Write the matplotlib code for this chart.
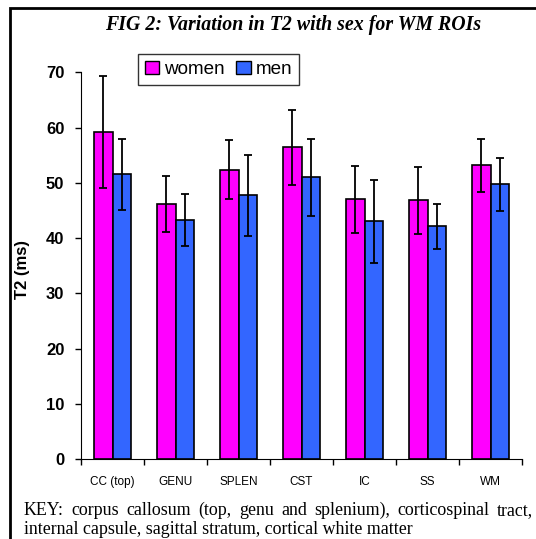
import matplotlib
matplotlib.use("Agg")
import matplotlib.pyplot as plt
from matplotlib.patches import Patch, Rectangle
import numpy as np

# data
regions = ["CC (top)", "GENU", "SPLEN", "CST", "IC", "SS", "WM"]
women = [59.2, 46.2, 52.4, 56.4, 47.0, 46.8, 53.2]
women_err = [10.2, 5.1, 5.4, 6.8, 6.1, 6.0, 4.8]
men = [51.5, 43.3, 47.7, 51.0, 43.0, 42.1, 49.7]
men_err = [6.4, 4.7, 7.3, 7.0, 7.5, 4.1, 4.8]

col_w = "#FF00FF"
col_m = "#3366FF"

W, H = 536, 539
fig = plt.figure(figsize=(W / 100, H / 100), dpi=100)
ax = fig.add_axes([81 / W, 1 - 459 / H, 441 / W, (459 - 72.3) / H])

x = np.arange(len(regions))
bw = 0.286
ax.bar(x - bw / 2, women, bw, color=col_w, edgecolor="black", linewidth=1.2, zorder=2)
ax.bar(x + bw / 2, men, bw, color=col_m, edgecolor="black", linewidth=1.2, zorder=2)
ax.errorbar(x - bw / 2, women, yerr=women_err, fmt="none", ecolor="black",
            elinewidth=1.3, capsize=3, capthick=1.3, zorder=3)
ax.errorbar(x + bw / 2, men, yerr=men_err, fmt="none", ecolor="black",
            elinewidth=1.3, capsize=3, capthick=1.3, zorder=3)

ax.set_xlim(-0.5, len(regions) - 0.5)
ax.set_ylim(0, 70)
ax.set_yticks(range(0, 71, 10))
ax.set_xticks(np.arange(len(regions) + 1) - 0.5)
ax.set_xticklabels([])
ax.set_xticks(x, minor=True)
ax.set_xticklabels(regions, minor=True, fontsize=8.5, family="Liberation Sans")
ax.tick_params(axis="x", which="minor", length=0, pad=12)
ax.tick_params(axis="x", which="major", length=4, width=1)
ax.tick_params(axis="y", length=4, width=1, pad=8)
for t in ax.get_yticklabels():
    t.set_fontweight("bold")
    t.set_fontsize(12)
    t.set_family("Liberation Sans")
ax.spines["top"].set_visible(False)
ax.spines["right"].set_visible(False)
ax.set_ylabel("T2 (ms)", fontsize=12, fontweight="bold", family="Liberation Sans")
ax.yaxis.set_label_coords(-0.116, 0.489)

handles = [Patch(facecolor=col_w, edgecolor="black", label="women"),
           Patch(facecolor=col_m, edgecolor="black", label="men")]
leg = fig.legend(handles=handles, loc="upper left", bbox_to_anchor=(138 / W, 1 - 54 / H),
                 ncol=2, frameon=True, fancybox=False, borderaxespad=0,
                 handlelength=0.75, handleheight=0.75, handletextpad=0.3,
                 columnspacing=0.6, borderpad=0.35,
                 prop={"family": "Liberation Sans", "size": 13.6})
leg.get_frame().set_edgecolor("black")
leg.get_frame().set_linewidth(1)

fig.text(293 / W, 1 - 25 / H, "FIG 2: Variation in T2 with sex for WM ROIs",
         ha="center", va="center", fontsize=14.3, fontweight="bold", style="italic",
         family="Liberation Serif")

# outer frame (clipped at right and bottom)
fig.patches.append(Rectangle((9.5 / W, -0.1), 1.2, 1 - 8 / H + 0.1, transform=fig.transFigure,
                             fill=False, edgecolor="black", linewidth=2))

# justified key text
key1 = "KEY: corpus callosum (top, genu and splenium), corticospinal tract,"
key2 = "internal capsule, sagittal stratum, cortical white matter"
kfs = 12.9
x0, x1 = 24 / W, 533 / W
words = key1.split()
texts = [fig.text(0, 1 - 515 / H, w, fontsize=kfs, family="Liberation Serif", va="baseline")
         for w in words]
fig.canvas.draw()
r = fig.canvas.get_renderer()
widths = [t.get_window_extent(r).width / W for t in texts]
gap = (x1 - x0 - sum(widths)) / (len(words) - 1)
pos = x0
for t, w in zip(texts, widths):
    t.set_x(pos)
    pos += w + gap
fig.text(x0, 1 - 534 / H, key2, fontsize=kfs, family="Liberation Serif", va="baseline")

fig.savefig("out.png", dpi=100)
